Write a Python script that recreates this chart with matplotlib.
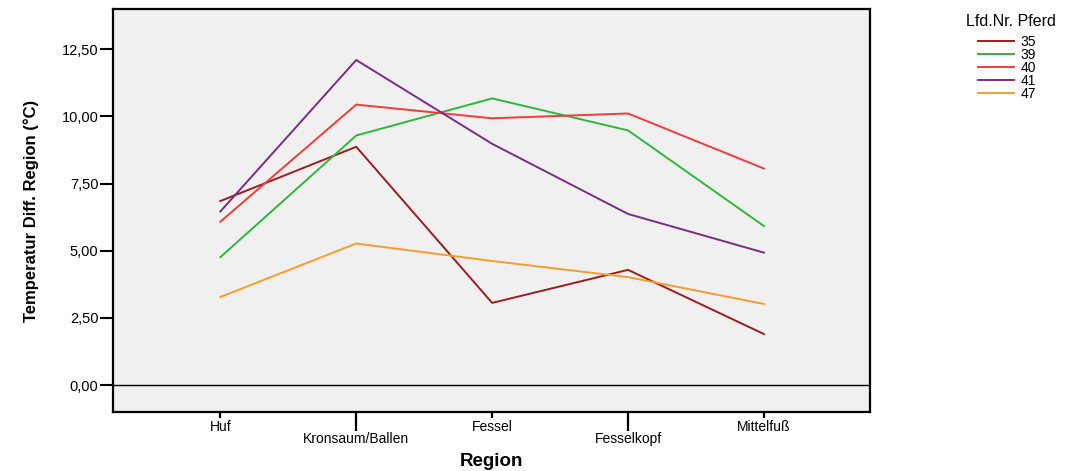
import matplotlib
matplotlib.use("Agg")
import matplotlib.pyplot as plt

# ── Daten: Temperaturdifferenz je Region und Pferd ────────────────────────────
regionen = ["Huf", "Kronsaum/Ballen", "Fessel", "Fesselkopf", "Mittelfuß"]
pferde = ["35", "39", "40", "41", "47"]
temp_35 = [6.85, 8.87, 3.06, 4.29, 1.90]
temp_39 = [4.76, 9.29, 10.67, 9.48, 5.92]
temp_40 = [6.08, 10.44, 9.93, 10.11, 8.06]
temp_41 = [6.46, 12.10, 8.98, 6.37, 4.93]
temp_47 = [3.28, 5.27, 4.62, 4.02, 3.02]
farben = ["#9c1c1f", "#2db83d", "#f23b3b", "#7b2c84", "#f79d2a"]
y_ticks = [0.0, 2.5, 5.0, 7.5, 10.0, 12.5]

plt.rcParams["font.family"] = ["Liberation Sans", "DejaVu Sans"]

fig = plt.figure(figsize=(10.83, 4.71), dpi=100)
ax = fig.add_axes([0.1043, 0.1253, 0.6990, 0.8557])
ax.set_facecolor("#f0f0f0")

x = list(range(len(regionen)))
for werte, name, farbe in zip([temp_35, temp_39, temp_40, temp_41, temp_47], pferde, farben):
    ax.plot(x, werte, color=farbe, lw=1.4, label=name)

ax.axhline(0, color="black", lw=1.0)

ax.set_xlim(-0.79, 4.78)
ax.set_ylim(-1.0, 14.0)

# y-Achse mit Komma als Dezimaltrenner
ax.set_yticks(y_ticks)
ax.set_yticklabels([f"{v:.2f}".replace(".", ",") for v in y_ticks], fontsize=10.5)
ax.tick_params(axis="y", length=9.4, width=1.5, pad=1)

# x-Achse: gerade Positionen als Major-, ungerade als Minor-Ticks (versetzte Beschriftung)
ax.set_xticks(x[0::2])
ax.set_xticklabels(regionen[0::2], fontsize=10)
ax.set_xticks(x[1::2], minor=True)
ax.set_xticklabels(regionen[1::2], minor=True, fontsize=10)
ax.tick_params(axis="x", which="major", length=4.5, width=1.6, pad=1)
ax.tick_params(axis="x", which="minor", length=13.5, width=1.6, pad=1)

for sp in ax.spines.values():
    sp.set_linewidth(1.6)
    sp.set_color("black")

ax.set_ylabel("Temperatur Diff. Region (°C)", fontsize=12, fontweight="bold")
ax.yaxis.set_label_coords(-0.098, 0.5)
ax.set_xlabel("Region", fontsize=13.5, fontweight="bold", labelpad=5)

# Legende: Titel separat, Einträge darunter
fig.text(1011 / 1083, 1 - 22 / 471, "Lfd.Nr. Pferd", fontsize=11.5, ha="center", va="center")
leg = ax.legend(loc="upper left",
                bbox_to_anchor=(978 / 1083, 1 - 35 / 471), bbox_transform=fig.transFigure,
                frameon=False, fontsize=10,
                handlelength=2.6, handletextpad=0.45, labelspacing=-0.08,
                borderaxespad=0, borderpad=0)

fig.savefig("out.png", dpi=100)
